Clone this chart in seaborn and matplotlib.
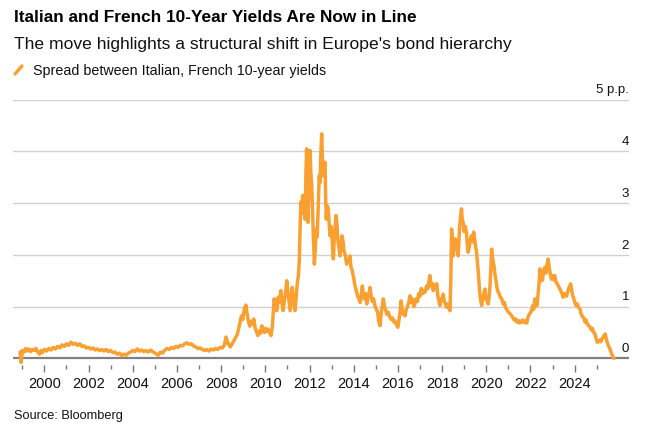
import seaborn as sns
import matplotlib.pyplot as plt
from matplotlib.lines import Line2D

# Spread between Italian and French 10-year yields (percentage points)
years = [
    1998.90, 1998.95, 1999.00, 1999.08, 1999.15, 1999.22, 1999.30, 1999.38, 1999.46, 1999.54,
    1999.62, 1999.70, 1999.78, 1999.85, 1999.92, 2000.00, 2000.10, 2000.20, 2000.30, 2000.40,
    2000.50, 2000.60, 2000.70, 2000.80, 2000.90, 2001.00, 2001.10, 2001.20, 2001.30, 2001.40,
    2001.50, 2001.60, 2001.70, 2001.80, 2001.90, 2002.00, 2002.10, 2002.20, 2002.30, 2002.40,
    2002.50, 2002.60, 2002.70, 2002.80, 2002.90, 2003.00, 2003.10, 2003.20, 2003.30, 2003.40,
    2003.50, 2003.60, 2003.70, 2003.80, 2003.90, 2004.00, 2004.10, 2004.20, 2004.30, 2004.40,
    2004.50, 2004.60, 2004.70, 2004.80, 2004.93, 2005.05, 2005.15, 2005.25, 2005.35, 2005.45,
    2005.55, 2005.65, 2005.75, 2005.85, 2005.95, 2006.05, 2006.15, 2006.25, 2006.35, 2006.44,
    2006.55, 2006.65, 2006.75, 2006.85, 2006.95, 2007.05, 2007.15, 2007.25, 2007.35, 2007.45,
    2007.55, 2007.65, 2007.75, 2007.85, 2007.95, 2008.05, 2008.15, 2008.22, 2008.28, 2008.35,
    2008.42, 2008.50, 2008.58, 2008.65, 2008.72, 2008.78, 2008.85, 2008.92, 2008.98, 2009.05,
    2009.12, 2009.18, 2009.24, 2009.30, 2009.36, 2009.42, 2009.48, 2009.54, 2009.60, 2009.66,
    2009.72, 2009.78, 2009.84, 2009.90, 2009.96, 2010.02, 2010.08, 2010.14, 2010.20, 2010.26,
    2010.32, 2010.36, 2010.40, 2010.46, 2010.52, 2010.58, 2010.64, 2010.70, 2010.76, 2010.81,
    2010.86, 2010.92, 2010.97, 2011.02, 2011.07, 2011.12, 2011.17, 2011.22, 2011.28, 2011.34,
    2011.40, 2011.45, 2011.50, 2011.54, 2011.58, 2011.61, 2011.65, 2011.69, 2011.73, 2011.77,
    2011.80, 2011.84, 2011.87, 2011.90, 2011.93, 2011.96, 2011.99, 2012.02, 2012.06, 2012.10,
    2012.14, 2012.18, 2012.22, 2012.26, 2012.30, 2012.35, 2012.40, 2012.44, 2012.48, 2012.51,
    2012.55, 2012.58, 2012.62, 2012.66, 2012.70, 2012.73, 2012.76, 2012.80, 2012.85, 2012.89,
    2012.93, 2012.97, 2013.01, 2013.05, 2013.08, 2013.12, 2013.16, 2013.20, 2013.24, 2013.28,
    2013.33, 2013.38, 2013.43, 2013.47, 2013.52, 2013.57, 2013.62, 2013.68, 2013.73, 2013.78,
    2013.83, 2013.88, 2013.93, 2014.00, 2014.06, 2014.12, 2014.18, 2014.24, 2014.29, 2014.34,
    2014.39, 2014.44, 2014.49, 2014.54, 2014.59, 2014.64, 2014.69, 2014.74, 2014.79, 2014.84,
    2014.90, 2014.96, 2015.02, 2015.08, 2015.14, 2015.19, 2015.24, 2015.29, 2015.34, 2015.39,
    2015.44, 2015.50, 2015.57, 2015.63, 2015.70, 2015.76, 2015.82, 2015.87, 2015.93, 2016.00,
    2016.05, 2016.10, 2016.14, 2016.19, 2016.24, 2016.28, 2016.32, 2016.38, 2016.44, 2016.50,
    2016.55, 2016.61, 2016.66, 2016.72, 2016.77, 2016.83, 2016.89, 2016.94, 2017.00, 2017.06,
    2017.12, 2017.18, 2017.23, 2017.30, 2017.36, 2017.41, 2017.45, 2017.50, 2017.55, 2017.60,
    2017.65, 2017.70, 2017.76, 2017.81, 2017.86, 2017.90, 2017.95, 2018.00, 2018.05, 2018.10,
    2018.15, 2018.20, 2018.25, 2018.30, 2018.36, 2018.40, 2018.43, 2018.47, 2018.50, 2018.55,
    2018.60, 2018.65, 2018.70, 2018.73, 2018.77, 2018.80, 2018.84, 2018.88, 2018.91, 2018.95,
    2019.00, 2019.05, 2019.10, 2019.14, 2019.18, 2019.23, 2019.28, 2019.33, 2019.38, 2019.43,
    2019.48, 2019.52, 2019.56, 2019.60, 2019.64, 2019.68, 2019.72, 2019.76, 2019.79, 2019.84,
    2019.89, 2019.94, 2019.99, 2020.04, 2020.09, 2020.13, 2020.17, 2020.21, 2020.24, 2020.28,
    2020.32, 2020.35, 2020.40, 2020.44, 2020.47, 2020.52, 2020.58, 2020.64, 2020.70, 2020.76,
    2020.82, 2020.87, 2020.92, 2020.98, 2021.04, 2021.10, 2021.15, 2021.21, 2021.27, 2021.33,
    2021.38, 2021.44, 2021.50, 2021.55, 2021.60, 2021.66, 2021.72, 2021.78, 2021.83, 2021.88,
    2021.94, 2022.00, 2022.05, 2022.10, 2022.15, 2022.20, 2022.25, 2022.30, 2022.35, 2022.40,
    2022.43, 2022.47, 2022.51, 2022.55, 2022.60, 2022.65, 2022.70, 2022.75, 2022.80, 2022.85,
    2022.90, 2022.95, 2023.00, 2023.05, 2023.10, 2023.15, 2023.20, 2023.26, 2023.33, 2023.38,
    2023.43, 2023.48, 2023.53, 2023.58, 2023.63, 2023.68, 2023.73, 2023.78, 2023.82, 2023.87,
    2023.92, 2023.96, 2024.01, 2024.06, 2024.12, 2024.18, 2024.24, 2024.30, 2024.36, 2024.42,
    2024.47, 2024.52, 2024.58, 2024.64, 2024.70, 2024.75, 2024.80, 2024.86, 2024.92, 2024.97,
    2025.03, 2025.08, 2025.13, 2025.18, 2025.23, 2025.28, 2025.33, 2025.38, 2025.43, 2025.48,
    2025.53, 2025.58, 2025.63, 2025.68, 2025.73, 2025.78,
]
spread = [
    0.12, -0.08, 0.15, 0.12, 0.19, 0.14, 0.18, 0.13, 0.17, 0.15,
    0.19, 0.12, 0.08, 0.15, 0.11, 0.17, 0.14, 0.19, 0.16, 0.21,
    0.18, 0.23, 0.20, 0.26, 0.23, 0.28, 0.25, 0.31, 0.27, 0.29,
    0.25, 0.28, 0.23, 0.24, 0.20, 0.21, 0.18, 0.20, 0.16, 0.18,
    0.15, 0.17, 0.14, 0.17, 0.13, 0.15, 0.11, 0.12, 0.08, 0.10,
    0.05, 0.08, 0.06, 0.10, 0.12, 0.15, 0.13, 0.18, 0.14, 0.16,
    0.13, 0.15, 0.12, 0.16, 0.12, 0.09, 0.06, 0.12, 0.10, 0.16,
    0.19, 0.17, 0.21, 0.19, 0.23, 0.21, 0.25, 0.24, 0.28, 0.30,
    0.27, 0.28, 0.24, 0.22, 0.19, 0.20, 0.17, 0.15, 0.17, 0.14,
    0.18, 0.16, 0.19, 0.17, 0.21, 0.20, 0.26, 0.41, 0.33, 0.26,
    0.22, 0.28, 0.34, 0.40, 0.45, 0.55, 0.68, 0.82, 0.75, 0.95,
    1.03, 0.85, 0.70, 0.62, 0.72, 0.66, 0.76, 0.58, 0.52, 0.44,
    0.52, 0.48, 0.63, 0.55, 0.50, 0.58, 0.52, 0.56, 0.49, 0.44,
    0.62, 0.90, 1.15, 0.98, 0.92, 1.18, 1.08, 1.31, 1.05, 0.92,
    1.12, 1.28, 1.50, 1.30, 1.10, 0.92, 1.15, 1.37, 1.10, 0.92,
    1.20, 1.47, 1.60, 1.92, 2.60, 3.02, 2.80, 3.15, 2.85, 3.00,
    2.69, 3.60, 4.05, 3.30, 2.63, 3.10, 3.70, 4.02, 3.60, 3.34,
    2.80, 2.30, 1.82, 2.10, 2.50, 2.35, 3.02, 3.53, 3.40, 3.90,
    4.34, 3.90, 3.53, 3.65, 3.79, 3.10, 2.69, 2.95, 2.89, 2.60,
    2.37, 2.55, 2.40, 2.10, 1.92, 2.30, 2.55, 2.76, 2.60, 2.30,
    2.15, 1.98, 2.20, 2.37, 2.25, 2.05, 2.00, 1.82, 1.90, 1.85,
    1.98, 1.75, 1.70, 1.55, 1.40, 1.30, 1.20, 1.15, 1.08, 1.20,
    1.40, 1.22, 1.15, 1.25, 1.05, 1.15, 1.25, 1.37, 1.20, 1.10,
    1.15, 1.02, 0.95, 0.90, 0.70, 0.63, 0.85, 1.00, 1.15, 1.00,
    0.95, 0.85, 0.89, 0.80, 0.75, 0.78, 0.70, 0.72, 0.65, 0.60,
    0.75, 0.90, 1.11, 0.95, 0.85, 0.88, 0.82, 0.95, 1.00, 1.10,
    1.21, 1.08, 1.15, 1.00, 1.05, 1.15, 1.10, 1.25, 1.20, 1.35,
    1.25, 1.30, 1.28, 1.40, 1.35, 1.50, 1.60, 1.40, 1.45, 1.31,
    1.42, 1.35, 1.44, 1.20, 1.10, 1.02, 1.15, 1.12, 1.24, 1.10,
    1.05, 0.99, 1.05, 0.98, 0.92, 1.60, 2.50, 2.20, 1.98, 2.15,
    2.31, 2.10, 2.20, 1.98, 2.35, 2.57, 2.75, 2.89, 2.70, 2.63,
    2.45, 2.55, 2.44, 2.20, 2.05, 2.15, 2.30, 2.37, 2.25, 2.44,
    2.30, 2.15, 2.05, 1.85, 1.66, 1.40, 1.20, 1.10, 1.02, 1.15,
    1.25, 1.34, 1.15, 1.10, 1.05, 1.20, 1.40, 1.75, 2.11, 1.95,
    1.85, 1.79, 1.60, 1.50, 1.40, 1.30, 1.25, 1.18, 1.15, 1.05,
    1.08, 0.98, 0.95, 0.90, 0.88, 0.85, 0.82, 0.78, 0.74, 0.76,
    0.70, 0.73, 0.68, 0.72, 0.70, 0.74, 0.69, 0.72, 0.68, 0.78,
    0.85, 0.88, 0.92, 1.02, 0.95, 1.15, 1.08, 1.02, 1.25, 1.50,
    1.73, 1.62, 1.50, 1.53, 1.70, 1.76, 1.65, 1.80, 1.92, 1.75,
    1.62, 1.53, 1.60, 1.52, 1.60, 1.48, 1.45, 1.40, 1.34, 1.30,
    1.25, 1.18, 1.25, 1.22, 1.20, 1.28, 1.35, 1.40, 1.44, 1.30,
    1.20, 1.15, 1.08, 1.02, 1.05, 0.98, 0.95, 0.85, 0.80, 0.78,
    0.70, 0.74, 0.66, 0.63, 0.60, 0.55, 0.58, 0.50, 0.47, 0.38,
    0.31, 0.33, 0.35, 0.32, 0.37, 0.40, 0.44, 0.47, 0.38, 0.30,
    0.24, 0.20, 0.14, 0.08, 0.03, 0.00,
]

y_ticks = [0, 1, 2, 3, 4, 5]
y_tick_labels = ["0", "1", "2", "3", "4", "5 p.p."]
x_major = list(range(2000, 2025, 2))
x_minor = list(range(1999, 2026, 2))

ORANGE = "#F9A030"
W, H = 666, 431

sns.set_theme(style="white")
plt.rcParams["font.family"] = ["Liberation Sans", "DejaVu Sans"]

fig = plt.figure(figsize=(W / 100, H / 100), dpi=100)
ax = fig.add_axes([13 / W, 1 - 365.5 / H, (629 - 13) / W, (365.5 - 100.7) / H])

sns.lineplot(x=years, y=spread, ax=ax, color=ORANGE, linewidth=2.5,
             estimator=None, sort=False, zorder=3)

ax.set_xlim(1998.58, 2026.46)
ax.set_ylim(-0.12, 5.0)

# gridlines and baseline
for v in y_ticks[1:]:
    ax.axhline(v, color="#d0d0d0", linewidth=1, zorder=1)
ax.axhline(0, color="#808080", linewidth=1.6, zorder=2)

# y labels sit above gridlines on the right
for v, lab in zip(y_ticks, y_tick_labels):
    ax.text(1.0, v + 0.14, lab, transform=ax.get_yaxis_transform(),
            ha="right", va="baseline", fontsize=9.5, color="#111111")
ax.set_yticks([])

ax.set_xticks(x_major)
ax.set_xticklabels([str(y) for y in x_major])
ax.set_xticks(x_minor, minor=True)
ax.tick_params(axis="x", which="major", length=5, width=1, color="#777777",
               pad=3, labelsize=10.5, labelcolor="#111111", bottom=True)
ax.tick_params(axis="x", which="minor", length=3, width=1, color="#777777", bottom=True)

for s in ax.spines.values():
    s.set_visible(False)
ax.set_xlabel("")
ax.set_ylabel("")
ax.patch.set_alpha(0)


def px(x, y):
    return x / W, 1 - y / H


fig.text(*px(14, 18), "Italian and French 10-Year Yields Are Now in Line",
         fontsize=12.4, fontweight="bold", va="center", ha="left", color="#000000")
fig.text(*px(14, 45), "The move highlights a structural shift in Europe's bond hierarchy",
         fontsize=12.6, va="center", ha="left", color="#111111")
fig.add_artist(Line2D([15 / W, 22 / W], [1 - 75 / H, 1 - 67 / H], color=ORANGE,
                      linewidth=2.4, transform=fig.transFigure))
fig.text(*px(33, 71), "Spread between Italian, French 10-year yields",
         fontsize=10.3, va="center", ha="left", color="#111111")
fig.text(*px(14, 416), "Source: Bloomberg", fontsize=9.2, va="center", ha="left",
         color="#111111")

fig.savefig("out.png", dpi=100)
